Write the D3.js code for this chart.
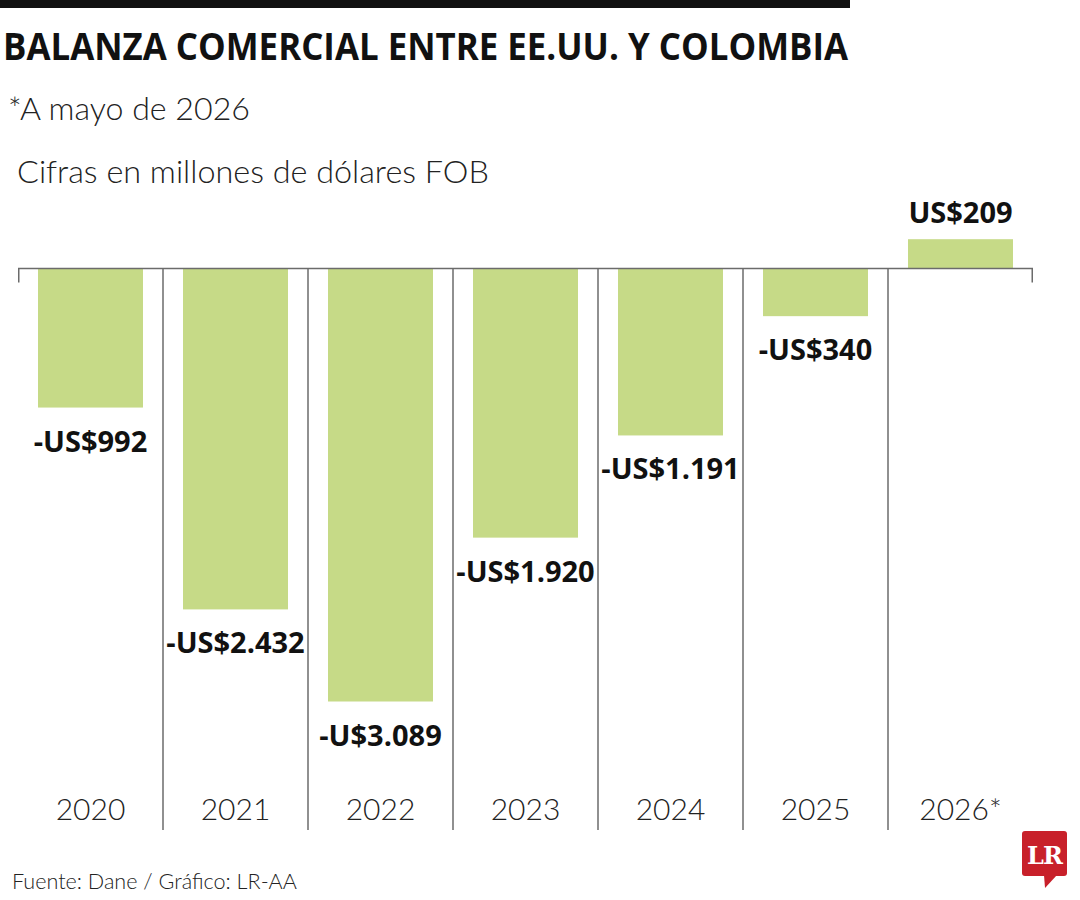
<!DOCTYPE html>
<html><head><meta charset="utf-8">
<script src="https://cdn.jsdelivr.net/npm/d3@7"></script>
<style>body{margin:0;background:#fff}svg{display:block}</style>
</head><body>
<svg id="c" width="1080" height="900"></svg>
<script>
const years = ["2020","2021","2022","2023","2024","2025","2026*"];
const values = [-992,-2432,-3089,-1920,-1191,-340,209];
const valueLabels = ["-US$992","-US$2.432","-U$3.089","-US$1.920","-US$1.191","-US$340","US$209"];
const title = "BALANZA COMERCIAL ENTRE EE.UU. Y COLOMBIA";
const subtitle = "*A mayo de 2026";
const unitNote = "Cifras en millones de dólares FOB";
const source = "Fuente: Dane / Gráfico: LR-AA";

const svg = d3.select("#c");
const BOLD = "'Open Sans', 'Noto Sans', sans-serif";
const LIGHT = "Lato, 'Open Sans', sans-serif";

function fit(sel, w){
  const n = sel.node(); const cur = n.getComputedTextLength();
  const fs = parseFloat(sel.attr("font-size"));
  sel.attr("font-size", fs*w/cur);
}

// top rule
svg.append("rect").attr("x",0).attr("y",0).attr("width",850).attr("height",8).attr("fill","#111");

const t = svg.append("text").attr("x",3).attr("y",60).attr("font-family",BOLD).attr("font-weight",700)
  .attr("font-size",38).attr("fill","#111").text(title);
t.attr("textLength",845).attr("lengthAdjust","spacingAndGlyphs");

const s1 = svg.append("text").attr("x",8).attr("y",120).attr("font-family",LIGHT).attr("font-weight",300)
  .attr("font-size",30).attr("fill","#222").text(subtitle);
fit(s1,242);
const s2 = svg.append("text").attr("x",17).attr("y",183).attr("font-family",LIGHT).attr("font-weight",300)
  .attr("font-size",30).attr("fill","#222").text(unitNote);
fit(s2,472);

const x = d3.scaleBand().domain(years).range([18,1033]).paddingInner(0).paddingOuter(0);
const y = d3.scaleLinear().domain([-3089,209]).range([701.5,239.2]);
const barW = x.bandwidth()*0.724;
const data = years.map((yr,i)=>({yr, v:values[i], lab:valueLabels[i]}));

// bars
svg.append("g").selectAll("rect").data(data).join("rect")
  .attr("x",d=>x(d.yr)+(x.bandwidth()-barW)/2)
  .attr("width",barW)
  .attr("y",d=>y(Math.max(0,d.v)))
  .attr("height",d=>Math.abs(y(d.v)-y(0)))
  .attr("fill","#c6da87");

// axis line and separators
const g = svg.append("g").attr("stroke","#6b6b6b").attr("stroke-width",1.5).attr("fill","none");
g.append("line").attr("x1",x.range()[0]).attr("x2",x.range()[1]).attr("y1",y(0)).attr("y2",y(0));
g.append("line").attr("x1",x.range()[0]+0.75).attr("x2",x.range()[0]+0.75).attr("y1",y(0)).attr("y2",y(0)+14);
g.append("line").attr("x1",x.range()[1]-0.75).attr("x2",x.range()[1]-0.75).attr("y1",y(0)).attr("y2",y(0)+14);
g.selectAll("line.sep").data(years.slice(1)).join("line").attr("class","sep")
  .attr("x1",d=>x(d)).attr("x2",d=>x(d)).attr("y1",y(0)).attr("y2",830);

// value labels
svg.append("g").selectAll("text").data(data).join("text")
  .attr("x",d=>x(d.yr)+x.bandwidth()/2)
  .attr("y",d=>d.v<0 ? y(d.v)+44 : y(d.v)-16)
  .attr("text-anchor","middle").attr("font-family",BOLD).attr("font-weight",700)
  .attr("font-size",29).attr("fill","#111").text(d=>d.lab);

// year labels
svg.append("g").selectAll("text").data(years).join("text")
  .attr("x",d=>x(d)+x.bandwidth()/2).attr("y",820)
  .attr("text-anchor","middle").attr("font-family",LIGHT).attr("font-weight",300)
  .attr("font-size",30).attr("fill","#222").text(d=>d);

const f = svg.append("text").attr("x",12).attr("y",889).attr("font-family",LIGHT).attr("font-weight",300)
  .attr("font-size",22).attr("fill","#222").text(source);
fit(f,285);

// logo
const lg = svg.append("g");
lg.append("rect").attr("x",1022).attr("y",831).attr("width",45).attr("height",45).attr("rx",3).attr("fill","#c8202a");
lg.append("path").attr("d","M1044,875 L1057,875 L1045,888 Z").attr("fill","#c8202a");
lg.append("text").attr("x",1044.5).attr("y",864).attr("text-anchor","middle")
  .attr("font-family","'DejaVu Serif', 'Liberation Serif', serif").attr("font-weight",700)
  .attr("font-size",24).attr("fill","#fff").attr("letter-spacing",-1).text("LR");
</script>
</body></html>
